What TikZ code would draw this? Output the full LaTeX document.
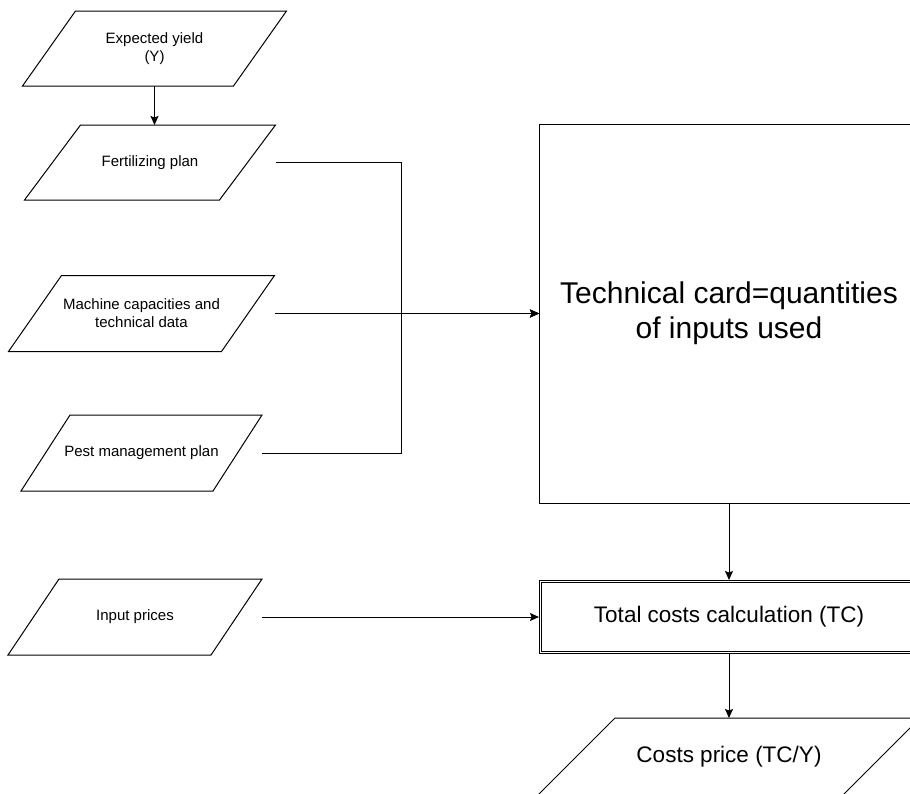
\documentclass[tikz,border=0pt]{standalone}
\usepackage{fontspec}
\setmainfont{Liberation Sans}
\usetikzlibrary{arrows.meta,calc}
\newcommand\drawpara[2]{\draw[shapeline] ([xshift=#2]#1.north west) -- ([xshift=#2]#1.north east) -- ([xshift=-#2]#1.south east) -- ([xshift=-#2]#1.south west) -- cycle;}
\begin{document}
\begin{tikzpicture}[x=1pt,y=-1pt,
  shapeline/.style={draw=black, line width=1pt},
  io/.style={inner sep=0pt, outer sep=0pt, align=center, font=\fontsize{15}{18}\selectfont},
  conn/.style={line width=1pt, -{Stealth[length=9pt,width=8pt,inset=1.5pt]}},
  wire/.style={line width=1pt}]
\useasboundingbox (0,0) rectangle (910,793);
\clip (0,0) rectangle (910,793);

% input parallelograms (text nodes; outlines drawn below)
\node[io, minimum width=211pt, minimum height=75pt] (yield) at (154.5,48.5) {Expected yield\\(Y)};
\node[io, minimum width=195pt, minimum height=75pt] (fert) at (150,162.5) {Fertilizing plan};
\node[io, minimum width=213pt, minimum height=76pt] (mach) at (141.5,313.5) {Machine capacities and\\technical data};
\node[io, minimum width=192pt, minimum height=76pt] (pest) at (141.5,453) {Pest management plan};
\node[io, minimum width=203pt, minimum height=76pt] (inp) at (135,617) {Input prices};

\drawpara{yield}{26.5pt}
\drawpara{fert}{28pt}
\drawpara{mach}{26.5pt}
\drawpara{pest}{24.5pt}
\drawpara{inp}{25.5pt}

% process boxes
\node[draw=black, line width=1pt, inner sep=0pt, outer sep=0pt, minimum width=380pt, minimum height=379pt,
      align=center, font=\fontsize{30}{35}\selectfont] (tech) at (729,313.5)
      {Technical card=quantities\\of inputs used};
\node[draw=black, line width=0.9pt, double, double distance=1.5pt, inner sep=0pt, outer sep=1.65pt,
      minimum width=376.7pt, minimum height=70.7pt, font=\fontsize{22.5}{27}\selectfont] (tc) at (729,617)
      {Total costs calculation (TC)};

% output parallelogram
\node[io, minimum width=305pt, minimum height=77pt, font=\fontsize{22.5}{27}\selectfont] (cost) at (729,756.5) {Costs price (TC/Y)};
\drawpara{cost}{38.5pt}

% connectors
\coordinate (jn) at (401,313.5);
\draw[conn] (yield.south) -- (yield.south |- fert.north);
\draw[conn] ([xshift=28pt]fert.east) -| (jn) -- (tech.west);
\draw[conn] ([xshift=26.5pt]mach.east) -- (tech.west);
\draw[conn] ([xshift=24.5pt]pest.east) -| (jn) -- (tech.west);
\draw[conn] ([xshift=25.5pt]inp.east) -- (tc.west);
\draw[conn] (tech.south) -- (tc.north);
\draw[conn] (tc.south) -- (cost.north);
\end{tikzpicture}
\end{document}
